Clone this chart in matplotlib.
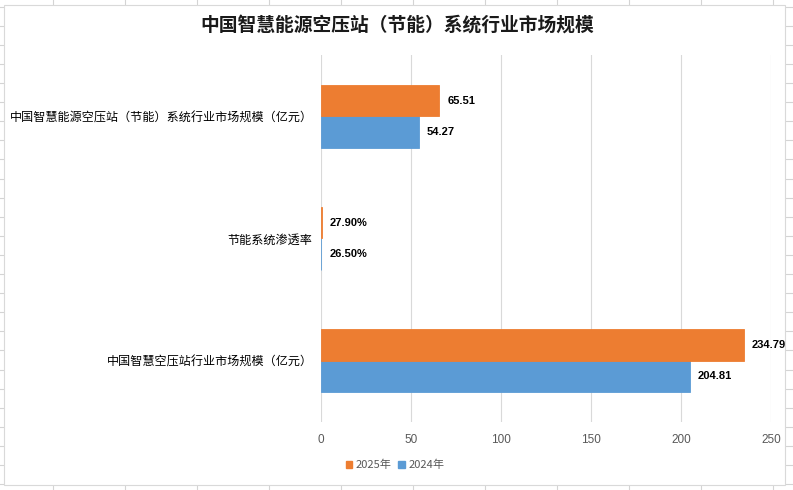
import matplotlib.pyplot as plt
from matplotlib.patches import Patch, Rectangle
from matplotlib.lines import Line2D
import numpy as np

plt.rcParams['font.family'] = ['Noto Sans CJK SC', 'DejaVu Sans']

TITLE = "中国智慧能源空压站（节能）系统行业市场规模"
categories = [
    "中国智慧空压站行业市场规模（亿元）",
    "节能系统渗透率",
    "中国智慧能源空压站（节能）系统行业市场规模（亿元）",
]
is_percent = [False, True, False]
values_2024 = [204.81, 0.265, 54.27]
values_2025 = [234.79, 0.279, 65.51]
series_names = ["2024年", "2025年"]
x_ticks = [0, 50, 100, 150, 200, 250]

BLUE = "#5B9BD5"
ORANGE = "#ED7D31"
GRID = "#D9D9D9"
TEXT_GRAY = "#595959"

W, H = 793, 490
fig = plt.figure(figsize=(W / 100, H / 100), dpi=100)
fig.patch.set_facecolor("white")


def px(x, y):
    return x / W, 1 - y / H


# spreadsheet cell lines behind the chart
for gx in np.arange(52.7, W, 72.0):
    fig.add_artist(Line2D([gx / W] * 2, [0, 1], color="#D4D4D4", lw=0.8, zorder=-3))
for gy in np.arange(6.6, H, 19.1):
    fig.add_artist(Line2D([0, 1], [1 - gy / H] * 2, color="#D4D4D4", lw=0.8, zorder=-3))

# chart area
x0, y0 = px(4, 485)
x1, y1 = px(785, 5)
fig.add_artist(Rectangle((x0, y0), x1 - x0, y1 - y0, transform=fig.transFigure,
                         facecolor="white", edgecolor="#D9D9D9", lw=0.8, zorder=-2))

left, bottom = px(321, 421.5)
right, top = px(771, 55.5)
ax = fig.add_axes([left, bottom, right - left, top - bottom])
ax.set_facecolor("none")
ax.set_axisbelow(True)

y = np.arange(len(categories))
h = 0.262
ax.barh(y - h / 2, values_2024, height=h, color=BLUE, edgecolor=BLUE, lw=0.6,
        label=series_names[0], zorder=3)
ax.barh(y + h / 2, values_2025, height=h, color=ORANGE, edgecolor=ORANGE, lw=0.6,
        label=series_names[1], zorder=3)

for vals, off in ((values_2024, -h / 2), (values_2025, h / 2)):
    for i, v in enumerate(vals):
        txt = f"{v:.2%}" if is_percent[i] else f"{v:.2f}"
        ax.annotate(txt, (v, i + off), xytext=(6, 0), textcoords="offset points",
                    va="center", ha="left", fontsize=8, fontweight="bold",
                    color="#000000", family=["Liberation Sans", "DejaVu Sans"])

ax.set_xlim(0, 250)
ax.set_ylim(-0.5, len(categories) - 0.5)
ax.set_xticks(x_ticks)
ax.set_xticklabels([str(t) for t in x_ticks], color=TEXT_GRAY, fontsize=8.5,
                   family=["Liberation Sans", "DejaVu Sans"])
ax.set_yticks(y)
ax.set_yticklabels(categories, fontsize=8.7, color="#000000")
ax.tick_params(axis="both", length=0)
ax.tick_params(axis="y", pad=6)
ax.tick_params(axis="x", pad=9)
ax.grid(axis="x", color=GRID, lw=0.8)
for s in ax.spines.values():
    s.set_visible(False)

tx, ty = px(397, 25)
fig.text(tx, ty, TITLE, ha="center", va="center", fontsize=13.5,
         fontweight="bold", color="#1a1a1a")

handles = [Patch(color=ORANGE), Patch(color=BLUE)]
lx, ly = px(395, 465)
fig.legend(handles, [series_names[1], series_names[0]], loc="center",
           bbox_to_anchor=(lx, ly), ncol=2, frameon=False, fontsize=8,
           handlelength=0.6, handleheight=0.6, handletextpad=0.3,
           columnspacing=0.6, labelcolor=TEXT_GRAY)

fig.savefig("out.png", dpi=100)
